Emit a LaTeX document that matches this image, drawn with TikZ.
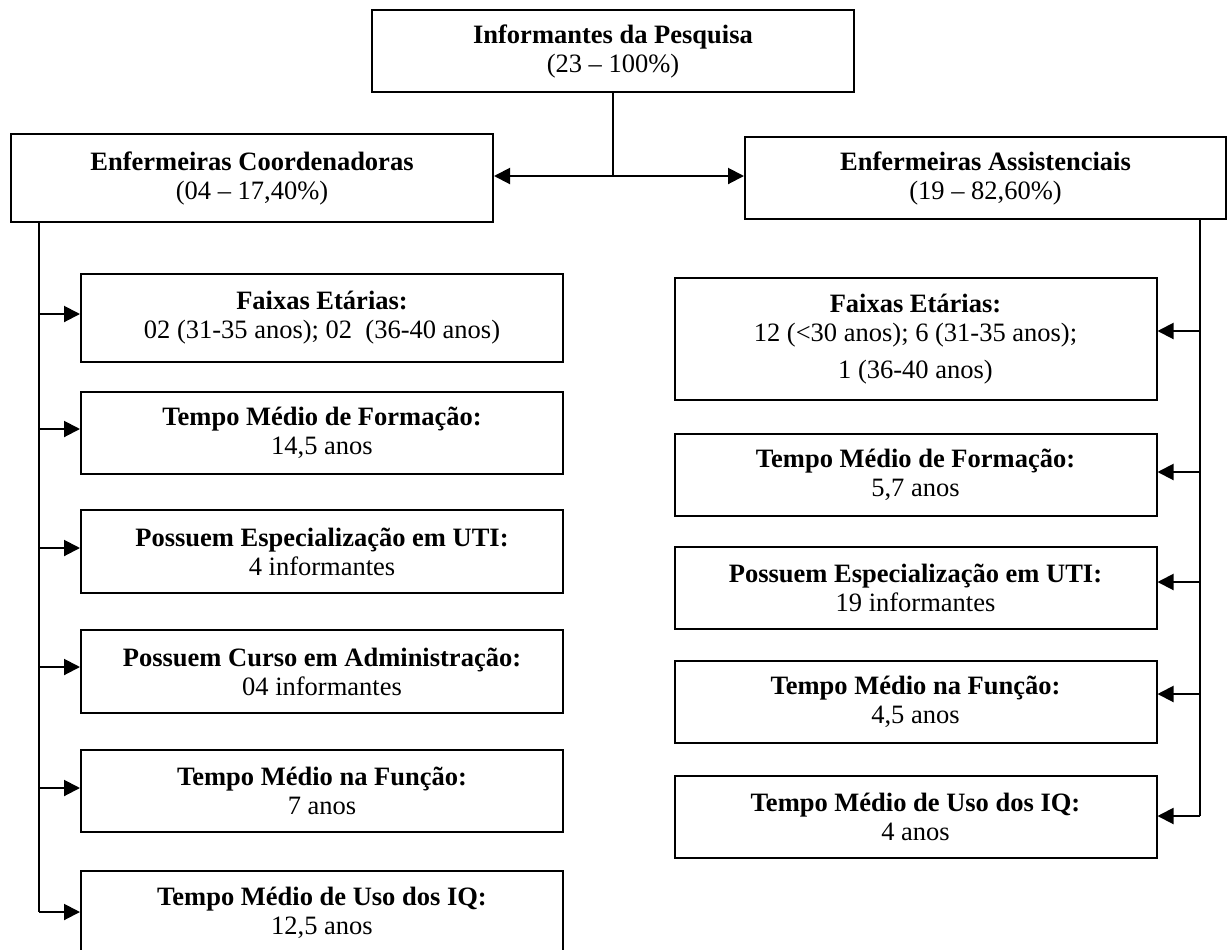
\documentclass[tikz,border=0pt]{standalone}
\usepackage{fontspec}
\setmainfont{Liberation Serif}
\usetikzlibrary{arrows.meta}
\begin{document}
\begin{tikzpicture}[x=0.5pt,y=-0.5pt,
  box/.style={draw, line width=1pt, minimum width=241pt, inner sep=0pt,
              align=center, font=\fontsize{13.25}{14.5}\selectfont},
  link/.style={line width=1pt},
  tip/.style={line width=1pt, -{Triangle[length=8pt,width=8pt]}},
  twotip/.style={line width=1pt, {Triangle[length=8pt,width=8pt]}-{Triangle[length=8pt,width=8pt]}},
]
\useasboundingbox (0,0) rectangle (1227,949);
\clip (0,0) rectangle (1227,949);
\fill[white] (0,0) rectangle (1227,949);

% top level
\node[box, minimum height=41pt] (top) at (613,51)
  {\textbf{Informantes da Pesquisa}\\(23 – 100\%)};

% the two groups
\node[box, minimum height=44pt] (lm) at (252,178)
  {\textbf{Enfermeiras Coordenadoras}\\(04 – 17,40\%)};
\node[box, minimum width=240.5pt, minimum height=41pt] (rm) at (985.5,178)
  {\textbf{Enfermeiras Assistenciais}\\(19 – 82,60\%)};

% left column
\node[box, minimum height=44pt] (b1) at (322,318)
  {\textbf{Faixas Etárias:}\\02 (31-35 anos); 02\ \ (36-40 anos)};
\node[box, minimum height=41pt] (b2) at (322,433)
  {\textbf{Tempo Médio de Formação:}\\14,5 anos};
\node[box, minimum height=41.5pt] (b3) at (322,551.5)
  {\textbf{Possuem Especialização em UTI:}\\4 informantes};
\node[box, minimum height=41.5pt] (b4) at (322,671.5)
  {\textbf{Possuem Curso em Administração:}\\04 informantes};
\node[box, minimum height=41pt] (b5) at (322,791)
  {\textbf{Tempo Médio na Função:}\\7 anos};
\node[box, minimum height=41.5pt] (b6) at (322,912.5)
  {\textbf{Tempo Médio de Uso dos IQ:}\\12,5 anos};

% right column
\node[box, minimum height=61pt] (a1) at (915.5,339)
  {\textbf{Faixas Etárias:}\\12 (<30 anos); 6 (31-35 anos);\\[4pt]1 (36-40 anos)};
\node[box, minimum height=41pt] (a2) at (915.5,475)
  {\textbf{Tempo Médio de Formação:}\\5,7 anos};
\node[box, minimum height=41pt] (a3) at (915.5,588)
  {\textbf{Possuem Especialização em UTI:}\\19 informantes};
\node[box, minimum height=41pt] (a4) at (915.5,702)
  {\textbf{Tempo Médio na Função:}\\4,5 anos};
\node[box, minimum height=41pt] (a5) at (915.5,817)
  {\textbf{Tempo Médio de Uso dos IQ:}\\4 anos};

% split from the top box to both groups
\coordinate (hub) at (613,176);
\draw[link] (top.south) -- (hub);
\draw[twotip] (lm.east |- hub) -- (rm.west |- hub);

% left spine
\coordinate (lx) at (39,0);
\coordinate (l1) at (39,314);
\coordinate (l2) at (39,429);
\coordinate (l3) at (39,548);
\coordinate (l4) at (39,667);
\coordinate (l5) at (39,788);
\coordinate (l6) at (39,912);
\draw[link] (lm.south -| lx) -- (l6);
\foreach \i in {1,...,6} \draw[tip] (l\i) -- (l\i -| b\i.west);

% right spine
\coordinate (rx) at (1200,0);
\coordinate (r1) at (1200,331);
\coordinate (r2) at (1200,472);
\coordinate (r3) at (1200,582);
\coordinate (r4) at (1200,694);
\coordinate (r5) at (1200,816);
\draw[link] (rm.south -| rx) -- (r5);
\foreach \i in {1,...,5} \draw[tip] (r\i) -- (r\i -| a\i.east);
\end{tikzpicture}
\end{document}
